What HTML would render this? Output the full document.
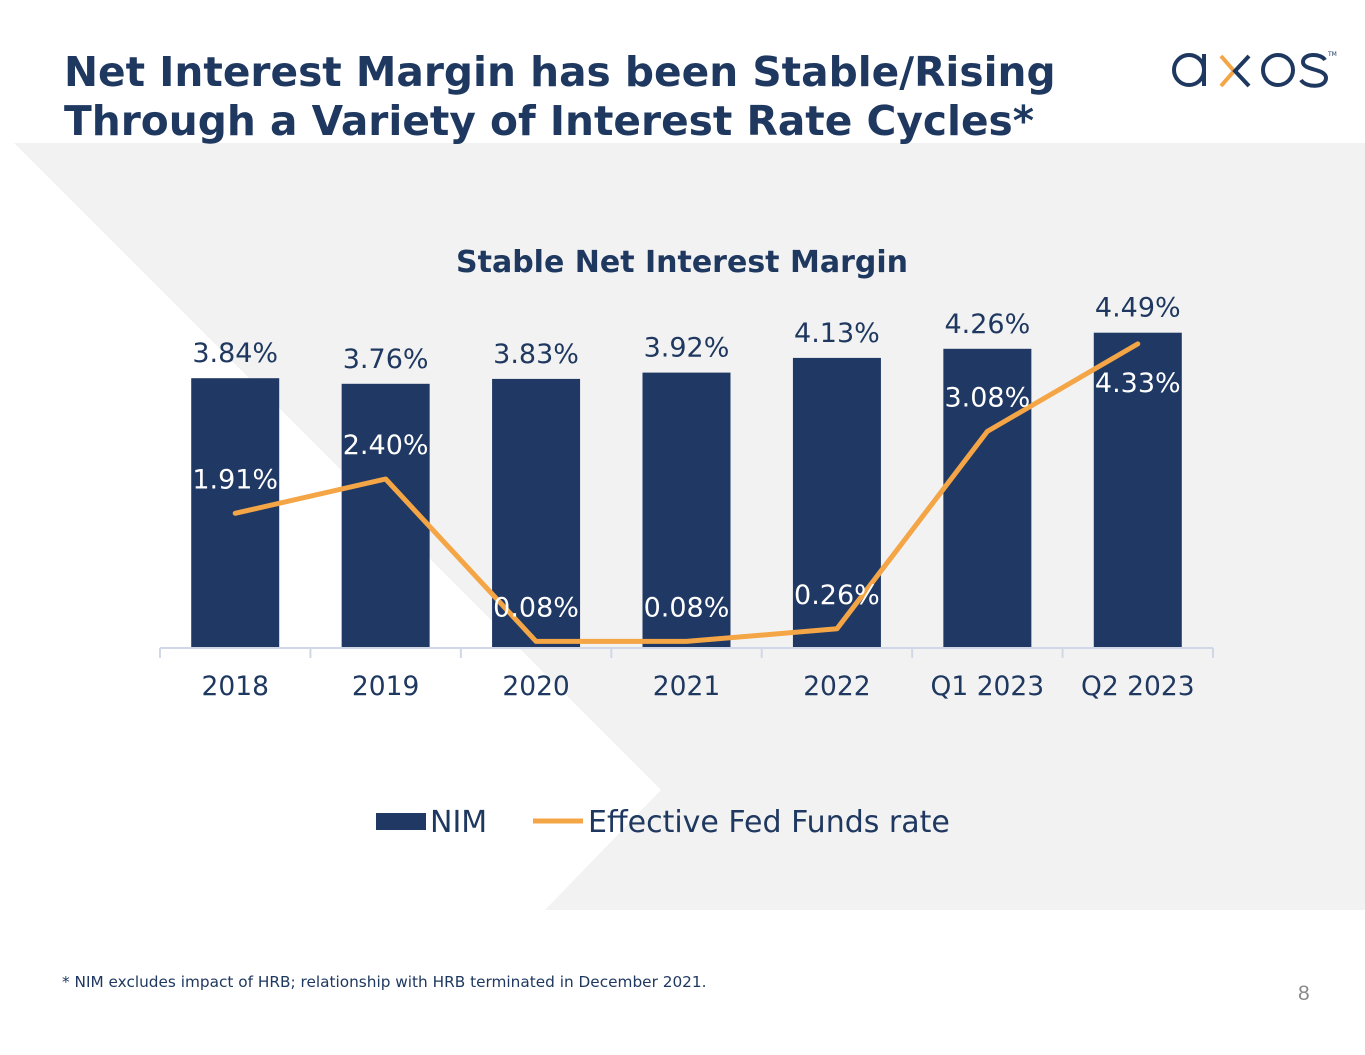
<!DOCTYPE html>
<html><head><meta charset="utf-8"><style>
body{margin:0;width:1365px;height:1055px;background:#fff;position:relative;overflow:hidden;font-family:"DejaVu Sans","Liberation Sans",sans-serif}
.title{position:absolute;left:64px;top:48px;font-size:40.7px;font-weight:bold;color:#1f3860;line-height:49px;letter-spacing:0px}
.foot{position:absolute;left:62px;top:973px;font-size:15.3px;color:#1f3860}
.pg{position:absolute;left:1298px;top:982px;font-size:21px;color:#8a8a8a;font-family:"Liberation Sans",sans-serif}
</style></head><body>
<svg width="1365" height="1055" style="position:absolute;left:0;top:0">
<polygon points="14,143 1365,143 1365,910 545,910 661,790" fill="#f2f2f2"/>
</svg>
<div class="title">Net Interest Margin has been Stable/Rising<br>Through a Variety of Interest Rate Cycles*</div>
<svg width="180" height="60" style="position:absolute;left:1165px;top:40px">
<circle cx="24" cy="30" r="15" fill="none" stroke="#1f3860" stroke-width="4"/>
<line x1="39" y1="14" x2="39" y2="46" stroke="#1f3860" stroke-width="4"/>
<polyline points="56,16 69,31 56,46" fill="none" stroke="#f4a545" stroke-width="4"/>
<polyline points="84,16 70,31 84,46" fill="none" stroke="#1f3860" stroke-width="4"/>
<circle cx="113" cy="30" r="15" fill="none" stroke="#1f3860" stroke-width="4"/>
<path d="M160,20 C156,13 138,13 138,22 C138,31 161,28 161,38 C161,48 141,48 136,40" fill="none" stroke="#1f3860" stroke-width="4"/>
<text x="163" y="16" font-size="6" fill="#1f3860">TM</text>
</svg>
<svg id="chart" width="1365" height="1055" style="position:absolute;left:0;top:0"></svg>
<div class="foot">* NIM excludes impact of HRB; relationship with HRB terminated in December 2021.</div>
<div class="pg">8</div>
<script>
const categories=["2018","2019","2020","2021","2022","Q1 2023","Q2 2023"];
const nimValues=[3.84,3.76,3.83,3.92,4.13,4.26,4.49];
const fedValues=[1.91,2.40,0.08,0.08,0.26,3.08,4.33];
const nimLabels=["3.84%","3.76%","3.83%","3.92%","4.13%","4.26%","4.49%"];
const fedLabels=["1.91%","2.40%","0.08%","0.08%","0.26%","3.08%","4.33%"];
const fedBelow=[false,false,false,false,false,false,true];
const svg=document.getElementById('chart');const NS='http://www.w3.org/2000/svg';
const x0=160,x1=1213,base=647,pxPer=70,bw=88;
const cw=(x1-x0)/categories.length;
const xC=i=>x0+cw*(i+0.5);
const yV=v=>base-v*pxPer;
function mk(t,a){const e=document.createElementNS(NS,t);for(const k in a)e.setAttribute(k,a[k]);svg.appendChild(e);return e;}
function tx(x,y,s,size,fill,name,weight){const e=mk('text',{x:x,y:y,'text-anchor':'middle','font-size':size,fill:fill,'font-weight':weight||'normal'});e.textContent=s;

return e;}
tx(682,272,"Stable Net Interest Margin",30,"#1f3860","chart-title","bold");
categories.forEach((c,i)=>{
const b=mk('rect',{x:xC(i)-bw/2,y:yV(nimValues[i]),width:bw,height:nimValues[i]*pxPer,fill:'#203864'});


tx(xC(i),yV(nimValues[i])-16,nimLabels[i],27,"#1f3860","nim-label-"+i);
tx(xC(i),695,c,26.5,"#1f3860","x-label-"+i);
});
const ax=mk('path',{d:`M${x0},${base+1}H${x1}`+categories.map((c,i)=>`M${x0+cw*i},${base+1}v10`).join('')+`M${x1},${base+1}v10`,stroke:'#d0d8e8','stroke-width':2,fill:'none'});


const ln=mk('polyline',{points:fedValues.map((v,i)=>xC(i)+','+yV(v)).join(' '),fill:'none',stroke:'#f4a545','stroke-width':5,'stroke-linejoin':'round','stroke-linecap':'round'});


fedValues.forEach((v,i)=>{tx(xC(i),fedBelow[i]?yV(v)+48:yV(v)-25,fedLabels[i],27,"#ffffff","fed-label-"+i);});
const lg1=mk('rect',{x:376,y:813,width:50,height:17,fill:'#203864'});


const t1=mk('text',{x:430,y:832,'font-size':30,fill:'#1f3860'});t1.textContent='NIM';


const lg2=mk('line',{x1:533,y1:821,x2:583,y2:821,stroke:'#f4a545','stroke-width':5});


const t2=mk('text',{x:588,y:832,'font-size':30,fill:'#1f3860'});t2.textContent='Effective Fed Funds rate';


</script>
</body></html>
